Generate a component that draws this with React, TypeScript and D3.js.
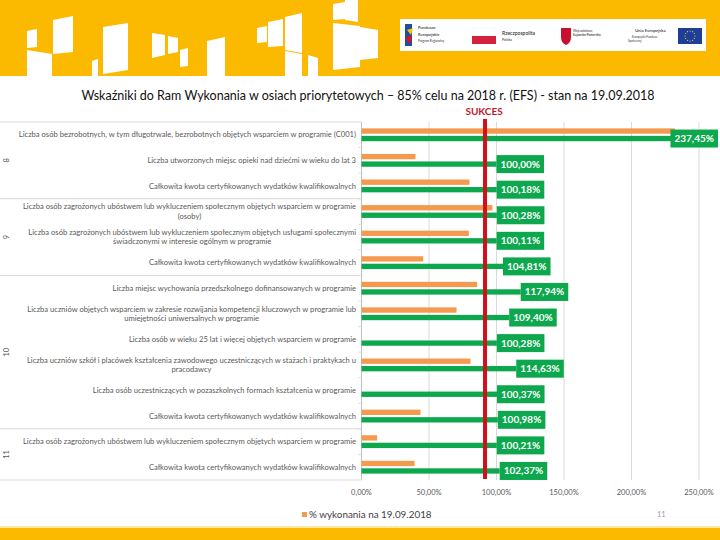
import React, { useRef, useEffect } from "react";
import * as d3 from "d3";

// osie priorytetowe i liczba wskaźników w każdej z nich
const axesNames = ["8", "9", "10", "11"];
const axesSizes = [3, 3, 6, 2];

const indicators = [
  "Liczba osób bezrobotnych, w tym długotrwale, bezrobotnych objętych wsparciem w programie (C001)",
  "Liczba utworzonych miejsc opieki nad dziećmi w wieku do lat 3",
  "Całkowita kwota certyfikowanych wydatków kwalifikowalnych",
  "Liczba osób zagrożonych ubóstwem lub wykluczeniem społecznym objętych wsparciem w programie|(osoby)",
  "Liczba osób zagrożonych ubóstwem lub wykluczeniem społecznym objętych usługami społecznymi|świadczonymi w interesie ogólnym w programie",
  "Całkowita kwota certyfikowanych wydatków kwalifikowalnych",
  "Liczba miejsc wychowania przedszkolnego dofinansowanych w programie",
  "Liczba uczniów objętych wsparciem w zakresie rozwijania kompetencji kluczowych w programie lub|umiejętności uniwersalnych w programie",
  "Liczba osób w wieku 25 lat i więcej objętych wsparciem w programie",
  "Liczba uczniów szkół i placówek kształcenia zawodowego uczestniczących w stażach i praktykach u|pracodawcy",
  "Liczba osób uczestniczących w pozaszkolnych formach kształcenia w programie",
  "Całkowita kwota certyfikowanych wydatków kwalifikowalnych",
  "Liczba osób zagrożonych ubóstwem lub wykluczeniem społecznym objętych wsparciem w programie",
  "Całkowita kwota certyfikowanych wydatków kwalifikowalnych",
];

// % wykonania na 19.09.2018 (pomarańczowe)
const wykonanie = [232.2, 40.0, 80.0, 97.0, 79.5, 45.7, 85.7, 70.4, 0, 80.7, 0, 43.7, 11.6, 39.3];
// prognoza wykonania celu (zielone)
const prognoza = [237.45, 100.0, 100.18, 100.28, 100.11, 104.81, 117.94, 109.4, 100.28, 114.63, 100.37, 100.98, 100.21, 102.37];

const xTicks = [0, 50, 100, 150, 200, 250];
const sukcesValue = 91.5;

const title =
  "Wskaźniki do Ram Wykonania w osiach priorytetowych – 85% celu na 2018 r. (EFS) - stan na 19.09.2018";
const legendLabel = "% wykonania na 19.09.2018";

// dekoracyjne bloki w nagłówku
const headerBlocks = [
  "27,31 37,29 37,47 27,48",
  "27,50 52,54 52,76 27,76",
  "53,20 73,16 73,52 53,54",
  "92,61 98,59 98,76 92,76",
  "103,27 128,23 128,70 103,74",
  "152,33 165,35 165,55 152,58",
  "168,36 178,38 178,52 168,54",
  "180,50 188,48 188,66 180,67",
  "207,41 225,37 225,76 207,76",
  "257,28 267,26 267,42 257,43",
  "268,22 283,19 283,46 268,47",
  "285,17 302,13 302,53 285,50",
  "285,51 302,54 302,76 285,76",
  "308,55 318,58 318,76 308,76",
  "333,4 345,2 345,19 333,20",
  "345,0 358,0 358,22 345,20",
  "333,23 360,26 360,67 333,70",
  "360,27 378,30 378,58 360,60",
];

const YELLOW = "#FBBA00";
const ORANGE = "#F39A4E";
const GREEN = "#0DA84E";
const fmt = (v: number) => v.toFixed(2).replace(".", ",") + "%";

export default function App() {
  const ref = useRef<SVGSVGElement>(null);

  useEffect(() => {
    if (!ref.current) return;
    const svg = d3.select(ref.current);
    svg.selectAll("*").remove();

    const W = 720;
    const H = 540;
    const top = 122;
    const bottom = 480;
    const labelRight = 356;

    // nagłówek
    svg.append("rect").attr("width", W).attr("height", 76).attr("fill", YELLOW);
    svg
      .append("g")
      .selectAll("polygon")
      .data(headerBlocks)
      .enter()
      .append("polygon")
      .attr("points", (d) => d)
      .attr("fill", "#fff");

    // pasek z logotypami
    const logos = svg.append("g");
    logos.append("rect").attr("x", 400).attr("y", 19).attr("width", 306).attr("height", 32).attr("fill", "#fff");
    logos.append("rect").attr("x", 405).attr("y", 24).attr("width", 7).attr("height", 22).attr("fill", "#1d4f9c");
    logos.append("polygon").attr("points", "407,30 413,28 411,35").attr("fill", "#f7c600");
    logos.append("polygon").attr("points", "405,38 412,35 410,44").attr("fill", "#d7132e");
    const logoText = [
      { x: 418, y: 29, t: "Fundusze", s: 4.2, w: 600 },
      { x: 418, y: 36, t: "Europejskie", s: 4.2, w: 600 },
      { x: 418, y: 42, t: "Program Regionalny", s: 3, w: 400 },
      { x: 502, y: 35, t: "Rzeczpospolita", s: 5, w: 600 },
      { x: 502, y: 41, t: "Polska", s: 3.6, w: 400 },
      { x: 573, y: 32, t: "Województwo", s: 3, w: 400 },
      { x: 573, y: 36, t: "Kujawsko-Pomorskie", s: 3, w: 600 },
      { x: 635, y: 32, t: "Unia Europejska", s: 4.3, w: 600 },
      { x: 632, y: 38, t: "Europejski Fundusz", s: 3, w: 400 },
      { x: 628, y: 42, t: "Społeczny", s: 3, w: 400 },
    ];
    logos
      .selectAll("text")
      .data(logoText)
      .enter()
      .append("text")
      .attr("x", (d) => d.x)
      .attr("y", (d) => d.y)
      .attr("font-size", (d) => d.s)
      .attr("font-weight", (d) => d.w)
      .attr("font-family", "Lato, sans-serif")
      .attr("fill", "#333")
      .text((d) => d.t);
    logos.append("rect").attr("x", 472).attr("y", 28).attr("width", 24).attr("height", 8).attr("fill", "#fff").attr("stroke", "#eee").attr("stroke-width", 0.5);
    logos.append("rect").attr("x", 472).attr("y", 36).attr("width", 24).attr("height", 8).attr("fill", "#d4213d");
    logos.append("path").attr("d", "M561,28 h10 v9 q0,6 -5,8 q-5,-2 -5,-8 z").attr("fill", "#c8102e");
    logos.append("rect").attr("x", 678).attr("y", 28).attr("width", 24).attr("height", 16).attr("fill", "#1e3f99");
    d3.range(12).forEach((i) => {
      const a = (i / 12) * Math.PI * 2;
      logos
        .append("circle")
        .attr("cx", 690 + Math.cos(a) * 5)
        .attr("cy", 36 + Math.sin(a) * 5)
        .attr("r", 0.6)
        .attr("fill", "#ffdd00");
    });

    // tytuł
    svg
      .append("text")
      .attr("x", 368)
      .attr("y", 100)
      .attr("text-anchor", "middle")
      .attr("font-family", "Lato, sans-serif")
      .attr("font-size", 12.5)
      .attr("fill", "#111")
      .text(title);

    // skale
    const rows = d3.range(indicators.length);
    const y = d3.scaleBand<number>().domain(rows).range([top, bottom]);
    const ySub = d3
      .scaleBand<string>()
      .domain(["wyk", "prog"])
      .range([0, y.bandwidth()])
      .paddingInner(0.29)
      .paddingOuter(0.85);
    const x = d3.scaleLinear().domain([0, 250]).range([361.5, 699]);

    // siatka
    svg
      .append("g")
      .selectAll("line")
      .data(xTicks.slice(1))
      .enter()
      .append("line")
      .attr("x1", (d) => x(d))
      .attr("x2", (d) => x(d))
      .attr("y1", top)
      .attr("y2", bottom)
      .attr("stroke", "#d9d9d9")
      .attr("stroke-width", 1);
    svg
      .append("line")
      .attr("x1", x(0))
      .attr("x2", x(0))
      .attr("y1", top)
      .attr("y2", bottom)
      .attr("stroke", "#bfbfbf");

    // linie podziału osi
    const bounds = [0, ...d3.cumsum(axesSizes)];
    svg
      .append("g")
      .selectAll("line")
      .data(bounds)
      .enter()
      .append("line")
      .attr("x1", 0)
      .attr("x2", x(0))
      .attr("y1", (d) => (d < rows.length ? y(d)! : bottom))
      .attr("y2", (d) => (d < rows.length ? y(d)! : bottom))
      .attr("stroke", "#d9d9d9");
    svg
      .append("g")
      .selectAll("line")
      .data(rows.slice(1))
      .enter()
      .append("line")
      .attr("x1", x(0) - 3)
      .attr("x2", x(0))
      .attr("y1", (d) => y(d)!)
      .attr("y2", (d) => y(d)!)
      .attr("stroke", "#d9d9d9");

    // numery osi
    svg
      .append("g")
      .selectAll("text")
      .data(axesNames)
      .enter()
      .append("text")
      .attr("transform", (d, i) => {
        const cy = (y(bounds[i])! + (bounds[i + 1] < rows.length ? y(bounds[i + 1])! : bottom)) / 2;
        return `translate(9,${cy}) rotate(-90)`;
      })
      .attr("text-anchor", "middle")
      .attr("font-family", "Lato, sans-serif")
      .attr("font-size", 7.5)
      .attr("fill", "#595959")
      .text((d) => d);

    // etykiety wskaźników
    const labels = svg.append("g").attr("font-family", "Lato, sans-serif").attr("font-size", 7.6).attr("fill", "#595959");
    indicators.forEach((txt, i) => {
      const lines = txt.split("|");
      const cy = y(i)! + y.bandwidth() / 2;
      const t = labels.append("text");
      const spans = lines.map((l, k) =>
        t
          .append("tspan")
          .attr("y", cy + 2.6 + (k - (lines.length - 1) / 2) * 9.5)
          .text(l)
      );
      const widths = spans.map((s) => (s.node() as SVGTSpanElement).getComputedTextLength());
      const maxW = d3.max(widths)!;
      const cx = labelRight - maxW / 2;
      spans.forEach((s) => s.attr("x", cx).attr("text-anchor", "middle"));
    });

    // słupki
    svg
      .append("g")
      .selectAll("rect")
      .data(rows.filter((i) => wykonanie[i] > 0))
      .enter()
      .append("rect")
      .attr("x", x(0))
      .attr("y", (i) => y(i)! + ySub("wyk")!)
      .attr("width", (i) => x(wykonanie[i]) - x(0))
      .attr("height", ySub.bandwidth())
      .attr("fill", ORANGE);
    svg
      .append("g")
      .selectAll("rect")
      .data(rows)
      .enter()
      .append("rect")
      .attr("x", x(0))
      .attr("y", (i) => y(i)! + ySub("prog")!)
      .attr("width", (i) => x(prognoza[i]) - x(0))
      .attr("height", ySub.bandwidth())
      .attr("fill", GREEN);

    // linia sukcesu
    svg
      .append("line")
      .attr("x1", x(sukcesValue))
      .attr("x2", x(sukcesValue))
      .attr("y1", 119)
      .attr("y2", 479)
      .attr("stroke", "#d0101a")
      .attr("stroke-width", 4);
    svg
      .append("text")
      .attr("x", x(sukcesValue) - 1)
      .attr("y", 115)
      .attr("text-anchor", "middle")
      .attr("font-family", "Lato, sans-serif")
      .attr("font-weight", 700)
      .attr("font-size", 10)
      .attr("fill", "#c0192b")
      .text("SUKCES");

    // etykiety danych
    const dl = svg.append("g").attr("font-family", "Lato, sans-serif").attr("font-weight", 700).attr("font-size", 10);
    rows.forEach((i) => {
      const cy = y(i)! + ySub("prog")! + ySub.bandwidth() / 2;
      const g = dl.append("g");
      const bg = g.append("rect").attr("fill", GREEN);
      const t = g.append("text").attr("fill", "#fff").attr("y", cy + 3.5).text(fmt(prognoza[i]));
      const tw = (t.node() as SVGTextElement).getComputedTextLength();
      const bw = tw + 8;
      const bx = Math.min(x(prognoza[i]), 718 - bw);
      bg.attr("x", bx).attr("y", cy - 9).attr("width", bw).attr("height", 18);
      t.attr("x", bx + 4);
    });

    // oś X
    svg
      .append("g")
      .selectAll("text")
      .data(xTicks)
      .enter()
      .append("text")
      .attr("x", (d) => x(d))
      .attr("y", 495)
      .attr("text-anchor", "middle")
      .attr("font-family", "Lato, sans-serif")
      .attr("font-size", 7.5)
      .attr("fill", "#595959")
      .text((d) => fmt(d));

    // legenda
    svg.append("rect").attr("x", 302).attr("y", 512).attr("width", 5).attr("height", 5).attr("fill", ORANGE);
    svg
      .append("text")
      .attr("x", 309)
      .attr("y", 517.5)
      .attr("font-family", "Lato, sans-serif")
      .attr("font-size", 9.9)
      .attr("fill", "#404040")
      .text(legendLabel);
    svg
      .append("text")
      .attr("x", 657)
      .attr("y", 517)
      .attr("font-family", "Lato, sans-serif")
      .attr("font-size", 7.5)
      .attr("fill", "#9a9a9a")
      .text("11");

    // stopka
    svg.append("rect").attr("x", 0).attr("y", 526).attr("width", W).attr("height", 2).attr("fill", "#fde7a3");
    svg.append("rect").attr("x", 0).attr("y", 528).attr("width", W).attr("height", H - 528).attr("fill", YELLOW);
  }, []);

  return (
    <svg
      ref={ref}
      width={720}
      height={540}
      style={{ position: "absolute", left: 0, top: 0, background: "#fff" }}
    />
  );
}
